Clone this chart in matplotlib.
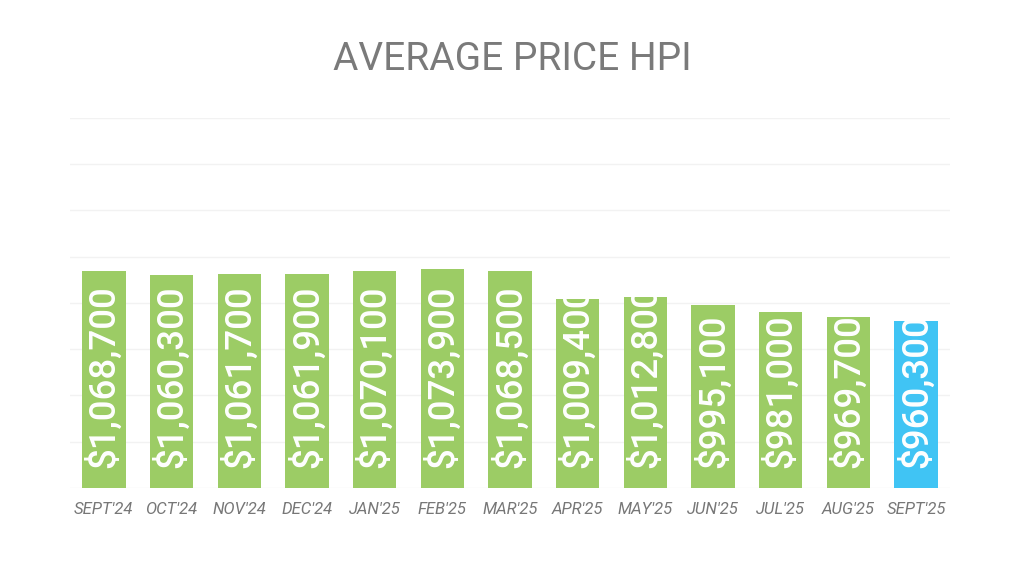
import matplotlib
matplotlib.use("Agg")
import matplotlib.pyplot as plt
import matplotlib.transforms as mtransforms

months = ["SEPT'24", "OCT'24", "NOV'24", "DEC'24", "JAN'25", "FEB'25", "MAR'25",
          "APR'25", "MAY'25", "JUN'25", "JUL'25", "AUG'25", "SEPT'25"]
prices = [1068700, 1060300, 1061700, 1061900, 1070100, 1073900, 1068500,
          1009400, 1012800, 995100, 981000, 969700, 960300]

green = "#9ccc65"
blue = "#40c4f4"
colors = [green] * (len(prices) - 1) + [blue]

fig = plt.figure(figsize=(10.24, 5.76), dpi=100)
ax = fig.add_axes([70 / 1024, 1 - 488 / 576, 880 / 1024, 370 / 576])

bars = ax.bar(range(len(prices)), prices, width=0.64, color=colors, zorder=2)

ax.set_ylim(600000, 1400000)
ax.set_xlim(-0.5, len(prices) - 0.5)
ax.set_yticks(range(600000, 1400001, 100000))
ax.yaxis.grid(True, color="#f2f2f2", linewidth=1, zorder=0)
ax.tick_params(axis="y", length=0, labelleft=False)
ax.tick_params(axis="x", length=0, pad=10)
ax.set_xticks(range(len(prices)))
ax.set_xticklabels(months, fontsize=12, style="italic", color="#777777",
                   family="Roboto")
for s in ax.spines.values():
    s.set_visible(False)

# value labels start at the bar foot and get cut at the bar top
for i, (b, v) in enumerate(zip(bars, prices)):
    off = mtransforms.offset_copy(ax.transData, fig=fig, x=0, y=20, units="dots")
    t = ax.text(i, 600000, f"${v:,}", transform=off, rotation=90,
                ha="center", va="bottom", color="white", fontsize=26.5,
                fontweight="medium", family="Roboto", zorder=3)
    t.set_clip_path(b)

fig.text(0.5, 1 - 60 / 576, "AVERAGE PRICE HPI", ha="center", va="center",
         fontsize=28, color="#7a7a7a", family="Roboto")

fig.savefig("out.png", dpi=100)
